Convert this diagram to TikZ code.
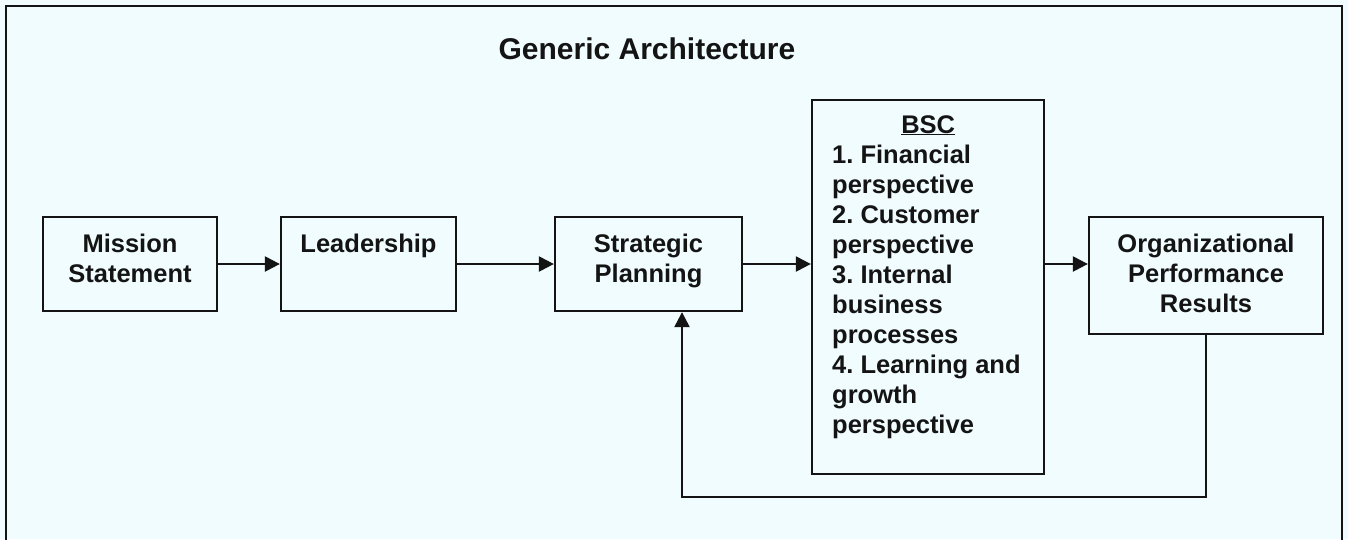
\documentclass[tikz,border=0pt]{standalone}
\usepackage{fontspec}
\setmainfont{Liberation Sans}
\usetikzlibrary{arrows.meta}
\definecolor{bgcol}{RGB}{240,252,254}
\definecolor{ink}{RGB}{20,20,20}
\frenchspacing
\begin{document}
\begin{tikzpicture}[x=1pt,y=-1pt,
  boxst/.style={draw=ink,line width=2.3pt,fill=none,inner sep=0pt},
  txt/.style={inner sep=0pt,anchor=base,font=\bfseries\fontsize{25.5}{30}\selectfont,text=ink},
  conn/.style={draw=ink,line width=2.3pt,-{Triangle[length=15pt,width=15pt]}},
  plain/.style={draw=ink,line width=2.3pt}]
\useasboundingbox (0,0) rectangle (1348,539);
\fill[bgcol] (0,0) rectangle (1348,539);
\draw[ink,line width=2.6pt] (6,545) -- (6,6) -- (1342,6) -- (1342,545);
% title
\node[txt,font=\bfseries\fontsize{30}{36}\selectfont] (title) at (647,59) {Generic Architecture};
% boxes
\node[boxst,minimum width=174pt,minimum height=94pt] (ms) at (130,264) {};
\node[boxst,minimum width=175pt,minimum height=94pt] (lead) at (368.5,264) {};
\node[boxst,minimum width=187pt,minimum height=94pt] (sp) at (648.5,264) {};
\node[boxst,minimum width=232pt,minimum height=374pt] (bsc) at (928,287) {};
\node[boxst,minimum width=234pt,minimum height=117pt] (org) at (1206,275.5) {};
% texts
\node[txt] (mstxt) at (130,252) {\parbox[t]{170pt}{\centering Mission\\Statement}};
\node[txt] (leadtxt) at (368.5,252) {Leadership};
\node[txt] (sptxt) at (648.5,252) {\parbox[t]{180pt}{\centering Strategic\\Planning}};
\node[txt] (orgtxt) at (1206,252) {\parbox[t]{230pt}{\centering Organizational\\Performance\\Results}};
\node[txt,anchor=base west] (bsctxt) at (832,133) {\parbox[t]{210pt}{\makebox[192pt][c]{\underline{BSC}}\\1. Financial\\perspective\\2. Customer\\perspective\\3. Internal\\business\\processes\\4. Learning and\\growth\\perspective}};
% connectors
\draw[conn] (ms.east) -- (lead.west);
\draw[conn] (lead.east) -- (sp.west);
\draw[conn] (sp.east) -- (sp.east -| bsc.west);
\draw[conn] (bsc.east |- sp.east) -- (org.west |- sp.east);
\coordinate (fb) at (682,497);
\draw[conn] (org.south) |- (fb) -- (fb |- sp.south);
\end{tikzpicture}
\end{document}
